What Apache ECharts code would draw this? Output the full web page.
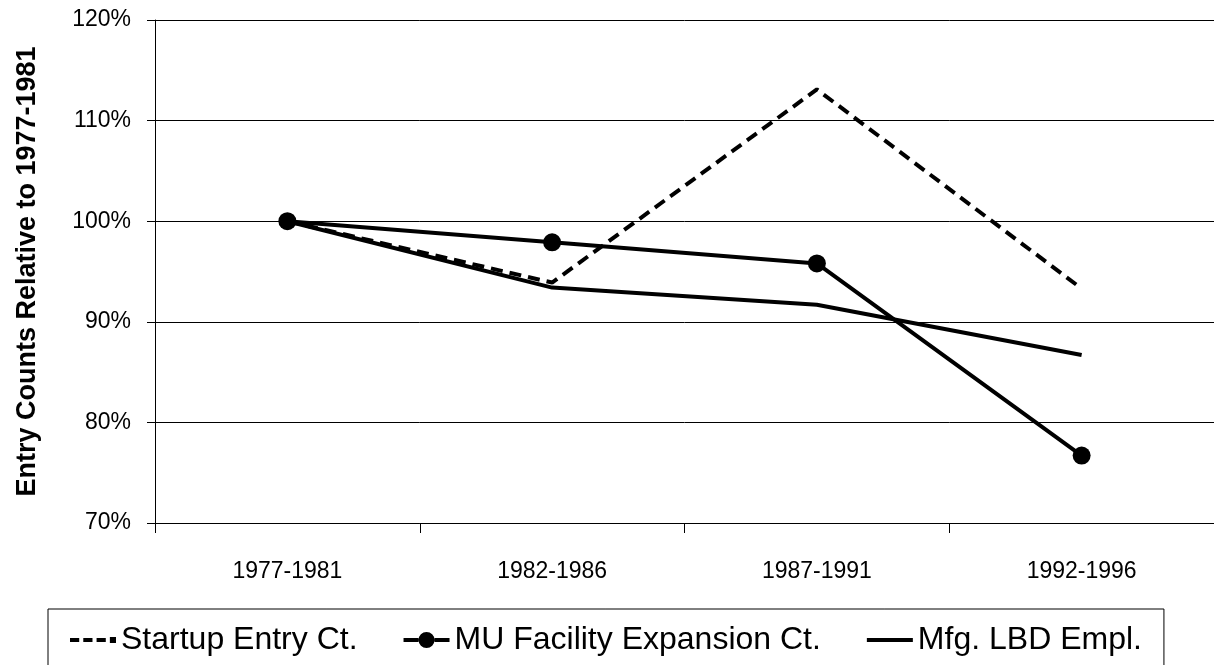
<!DOCTYPE html>
<html>
<head>
<meta charset="utf-8">
<script src="https://cdn.jsdelivr.net/npm/echarts@6/dist/echarts.min.js"></script>
<style>
  html, body { margin: 0; padding: 0; background: #fff; }
  #chart { width: 1214px; height: 665px; }
</style>
</head>
<body>
<div id="chart"></div>
<script>
const periods = ['1977-1981', '1982-1986', '1987-1991', '1992-1996']
const startupEntry = [100, 93.9, 113.1, 93.3]
const muExpansion = [100, 97.9, 95.8, 76.7]
const mfgEmpl = [100, 93.4, 91.7, 86.7]
const yTicks = [70, 80, 90, 100, 110, 120]

const font = 'Arial, "Liberation Sans", sans-serif'

// legend icons drawn like the spreadsheet ones
const dashIcon = 'path://M0,6h9v4h-9z M13,6h9v4h-9z M26,6h9v4h-9z M39,5h6v6h-6z'
const dotIcon = 'path://M0,6h15v4h-15z M31,6h15v4h-15z M23,0a8,8 0 1,0 0.01,0z'
const lineIcon = 'path://M0,6h46v4h-46z'

const chart = echarts.init(document.getElementById('chart'))

chart.setOption({
  animation: false,
  backgroundColor: '#fff',
  grid: { left: 155, top: 20, bottom: 142, width: 1064 },
  legend: {
    left: 48,
    top: 609,
    padding: [15, 22, 40, 22],
    borderColor: '#000',
    borderWidth: 1,
    itemWidth: 46,
    itemHeight: 16,
    itemGap: 46,
    textStyle: { fontFamily: font, fontSize: 32, color: '#000' },
    data: [
      { name: 'Startup Entry Ct.', icon: dashIcon },
      { name: 'MU Facility Expansion Ct.', icon: dotIcon },
      { name: 'Mfg. LBD Empl.', icon: lineIcon }
    ]
  },
  xAxis: {
    type: 'category',
    data: periods,
    boundaryGap: true,
    axisLine: { lineStyle: { color: '#000', width: 1 } },
    axisTick: { show: true, length: 10, lineStyle: { color: '#000' } },
    axisLabel: { fontFamily: font, fontSize: 23, color: '#000', margin: 37 }
  },
  yAxis: {
    type: 'value',
    min: yTicks[0],
    max: yTicks[yTicks.length - 1],
    interval: 10,
    name: 'Entry Counts Relative to 1977-1981',
    nameLocation: 'middle',
    nameGap: 114,
    nameTextStyle: { fontFamily: font, fontSize: 27, fontWeight: 'bold', color: '#000' },
    axisLine: { show: true, lineStyle: { color: '#000', width: 1 } },
    axisTick: { show: true, length: 8, lineStyle: { color: '#000' } },
    axisLabel: { fontFamily: font, fontSize: 23, color: '#000', margin: 24, formatter: v => v + '%' },
    splitLine: { show: true, lineStyle: { color: '#000', width: 1 } }
  },
  series: [
    {
      name: 'Startup Entry Ct.',
      type: 'line',
      data: startupEntry,
      symbol: 'none',
      lineStyle: { color: '#000', width: 4, type: [12, 7] },
      itemStyle: { color: '#000' }
    },
    {
      name: 'MU Facility Expansion Ct.',
      type: 'line',
      data: muExpansion,
      symbol: 'circle',
      symbolSize: 18,
      lineStyle: { color: '#000', width: 4 },
      itemStyle: { color: '#000' }
    },
    {
      name: 'Mfg. LBD Empl.',
      type: 'line',
      data: mfgEmpl,
      symbol: 'none',
      lineStyle: { color: '#000', width: 4 },
      itemStyle: { color: '#000' }
    }
  ]
})
</script>
</body>
</html>
